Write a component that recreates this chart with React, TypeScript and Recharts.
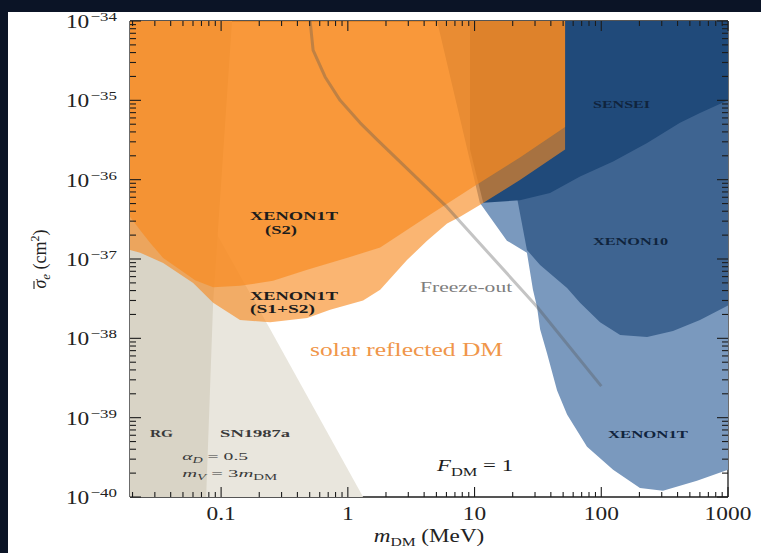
import React from 'react';
import { ScatterChart, Scatter, XAxis, YAxis } from 'recharts';

// Page canvas: plain white, no scrollbars
if (typeof document !== 'undefined') {
  document.documentElement.style.background = '#ffffff';
  document.documentElement.style.overflow = 'hidden';
  document.body.style.background = '#ffffff';
  document.body.style.margin = '0';
  document.body.style.overflow = 'hidden';
}

// Outline vertices of each region: [m_DM (MeV), sigma_e (cm^2)]
const sn1987a: [number, number][] = [
  [0.0191, 1e-40], [1.32, 1e-40], [0.244, 1.3e-38], [0.0191, 1.86e-35],
];
const redGiants: [number, number][] = [
  [0.0191, 1e-40], [0.0762, 1e-40], [0.0865, 2.8e-38], [0.122, 1e-34], [0.0191, 1e-34],
];
const xenon1t: [number, number][] = [
  [5.06, 1e-34], [1000, 1e-34], [1000, 2.2e-40], [569, 1.6e-40], [307, 1.2e-40], [202, 1.3e-40],
  [124, 2.2e-40], [77.2, 4.3e-40], [53.7, 1.1e-39], [44.8, 2.2e-39], [37.3, 6.5e-39],
  [32.9, 1.3e-38], [31.1, 2.5e-38], [28.9, 4.1e-38], [25.9, 1.2e-37], [18.0, 1.7e-37], [11.0, 5.1e-37],
];
const xenon10: [number, number][] = [
  [21.6, 1e-34], [1000, 1e-34], [1000, 2.6e-38], [601, 1.7e-38], [368, 1.24e-38], [230, 1.04e-38],
  [141, 1.1e-38], [97.8, 1.6e-38], [68.0, 2.8e-38], [53.7, 4.3e-38], [32.9, 8.4e-38],
  [25.9, 1.3e-37], [24.2, 2.3e-37], [21.6, 6.0e-37],
];
const sensei: [number, number][] = [
  [9.21, 1e-34], [1000, 1e-34], [1000, 1.0e-35], [601, 6.9e-36], [418, 5.2e-36], [230, 2.9e-36],
  [124, 1.7e-36], [68.0, 1.1e-36], [39.4, 6.8e-37], [22.8, 5.5e-37], [11.7, 5.1e-37], [9.21, 2.4e-36],
];
const xenon1tS1S2: [number, number][] = [
  [0.0191, 1e-34], [51.8, 1e-34], [51.8, 2.4e-36], [22.8, 9.9e-37], [11.0, 4.8e-37], [7.69, 3.4e-37],
  [6.07, 2.8e-37], [4.22, 1.7e-37], [2.93, 9.7e-38], [1.80, 4.1e-38], [1.32, 3.0e-38], [0.725, 2.3e-38],
  [0.478, 1.8e-38], [0.244, 1.6e-38], [0.141, 1.7e-38], [0.0865, 2.8e-38], [0.0602, 5.0e-38],
  [0.0349, 8.9e-38], [0.0230, 1.2e-37], [0.0191, 1.3e-37],
];
const xenon1tS2: [number, number][] = [
  [0.0191, 1e-34], [51.8, 1e-34], [51.8, 4.6e-36], [22.8, 1.9e-36], [9.72, 8.1e-37], [4.45, 3.6e-37],
  [1.80, 1.4e-37], [1.04, 1.06e-37], [0.478, 7.3e-38], [0.257, 5.3e-38], [0.141, 4.6e-38],
  [0.0865, 4.4e-38], [0.0624, 5.4e-38], [0.0475, 7.3e-38], [0.0349, 1.03e-37], [0.0275, 1.6e-37],
  [0.0230, 2.3e-37], [0.0191, 3.4e-37],
];
const freezeOut: [number, number][] = [
  [0.504, 1e-34], [0.532, 4.3e-35], [0.662, 1.97e-35], [0.869, 1.0e-35], [1.25, 5.2e-36],
  [1.70, 3.2e-36], [6.07, 4.5e-37], [31.1, 2.5e-38], [100, 2.5e-39],
];

// Axis ticks
const xMajor = [0.1, 1, 10, 100, 1000];
const yMajor = [1e-40, 1e-39, 1e-38, 1e-37, 1e-36, 1e-35, 1e-34];
const minorSteps = [2, 3, 4, 5, 6, 7, 8, 9];
const xTicks = [
  ...minorSteps.map((k) => k * 0.01),
  ...xMajor,
  ...xMajor.slice(0, 4).flatMap((d) => minorSteps.map((k) => k * d)),
].sort((a, b) => a - b);
const yTicks = [
  ...yMajor,
  ...yMajor.slice(0, 6).flatMap((d) => minorSteps.map((k) => k * d)),
].sort((a, b) => a - b);

const X_DOMAIN: [number, number] = [0.0191, 1000];
const Y_DOMAIN: [number, number] = [1e-40, 1e-34];

const SERIF = '"Liberation Serif", "DejaVu Serif", serif';
const INK = '#1c1c1c';

type Part = { t: string; i?: boolean; sub?: boolean };
type Note = { m: number; s: number; parts: Part[]; size: number; width: number; color: string; bold?: boolean };

// Text annotations, anchored at the start of their baseline in data coordinates
const notes: Note[] = [
  { m: 0.169, s: 3.1e-37, parts: [{ t: 'XENON1T' }], size: 11.5, width: 88, color: INK, bold: true },
  { m: 0.222, s: 2.09e-37, parts: [{ t: '(S2)' }], size: 11.5, width: 32, color: INK, bold: true },
  { m: 0.169, s: 3.0e-38, parts: [{ t: 'XENON1T' }], size: 11.5, width: 88, color: INK, bold: true },
  { m: 0.169, s: 2.06e-38, parts: [{ t: '(S1+S2)' }], size: 11.5, width: 65, color: INK, bold: true },
  { m: 86.1, s: 8.0e-36, parts: [{ t: 'SENSEI' }], size: 11, width: 57, color: '#10243d', bold: true },
  { m: 86.1, s: 1.5e-37, parts: [{ t: 'XENON10' }], size: 11, width: 75, color: '#10243d', bold: true },
  { m: 113, s: 5.5e-40, parts: [{ t: 'XENON1T' }], size: 11, width: 80, color: '#10243d', bold: true },
  { m: 0.0275, s: 5.7e-40, parts: [{ t: 'RG' }], size: 11, width: 23, color: '#3a3a3a', bold: true },
  { m: 0.0982, s: 5.7e-40, parts: [{ t: 'SN1987a' }], size: 11, width: 70, color: '#3a3a3a', bold: true },
  { m: 0.0493, s: 2.9e-40, parts: [{ t: 'α', i: true }, { t: 'D', i: true, sub: true }, { t: ' = 0.5' }], size: 11, width: 66, color: '#3a3a3a' },
  { m: 0.0493, s: 1.8e-40, parts: [{ t: 'm', i: true }, { t: 'V', i: true, sub: true }, { t: ' = 3' }, { t: 'm', i: true }, { t: 'DM', sub: true }], size: 11, width: 95, color: '#3a3a3a' },
  { m: 5.06, s: 2.1e-40, parts: [{ t: 'F', i: true }, { t: 'DM', sub: true }, { t: ' = 1' }], size: 16, width: 76, color: INK },
  { m: 3.72, s: 3.8e-38, parts: [{ t: 'Freeze-out' }], size: 14, width: 92, color: '#7d7d7d' },
  { m: 0.504, s: 6.0e-39, parts: [{ t: 'solar reflected DM' }], size: 19, width: 193, color: '#f0964a' },
];

const toPoints = (arr: [number, number][]) => arr.map(([m, s]) => ({ m, s }));

const regionShape = (fill: string, opacity: number) => (p: any) => {
  const pts = (p.points || []).filter((q: any) => q.x != null && q.y != null);
  if (!pts.length) return <g />;
  const d = pts.map((q: any, i: number) => `${i ? 'L' : 'M'}${q.x},${q.y}`).join('') + 'Z';
  return <path d={d} fill={fill} fillOpacity={opacity} stroke="none" />;
};

const curveShape = (stroke: string, opacity: number, width: number) => (p: any) => {
  const pts = (p.points || []).filter((q: any) => q.x != null && q.y != null);
  if (!pts.length) return <g />;
  const d = pts.map((q: any, i: number) => `${i ? 'L' : 'M'}${q.x},${q.y}`).join('');
  return <path d={d} fill="none" stroke={stroke} strokeOpacity={opacity} strokeWidth={width} strokeLinejoin="round" />;
};

const noDot = () => <g />;

const NoteShape = (p: any) => {
  const n: Note = p.payload;
  if (!n || p.cx == null) return <g />;
  let shift = 0;
  const spans = n.parts.map((pt, k) => {
    const target = pt.sub ? Math.round(n.size * 0.3) : 0;
    const dy = target - shift;
    shift = target;
    return (
      <tspan key={k} dy={dy} fontStyle={pt.i ? 'italic' : 'normal'} fontSize={pt.sub ? n.size * 0.72 : n.size}>
        {pt.t}
      </tspan>
    );
  });
  return (
    <text
      x={p.cx}
      y={p.cy}
      textLength={n.width}
      lengthAdjust="spacingAndGlyphs"
      fontFamily={SERIF}
      fontWeight={n.bold ? 700 : 400}
      fontSize={n.size}
      fill={n.color}
    >
      {spans}
    </text>
  );
};

const isMajor = (v: number, majors: number[]) => majors.some((m) => Math.abs(v / m - 1) < 1e-6);

const BottomTick = (p: any) => {
  const { x, y, payload } = p;
  const v = payload.value;
  const major = isMajor(v, xMajor);
  return (
    <g>
      <line x1={x} x2={x} y1={y} y2={y - (major ? 10 : 5)} stroke={INK} strokeWidth={1.1} />
      {major && (
        <text transform={`translate(${x},${y + 23}) scale(1.3,1)`} textAnchor="middle" fontFamily={SERIF} fontSize={18} fill="#222">
          {String(v)}
        </text>
      )}
    </g>
  );
};

const TopTick = (p: any) => {
  const { x, y, payload } = p;
  const major = isMajor(payload.value, xMajor);
  return <line x1={x} x2={x} y1={y} y2={y + (major ? 10 : 5)} stroke={INK} strokeWidth={1.1} />;
};

const LeftTick = (p: any) => {
  const { x, y, payload } = p;
  const v = payload.value;
  const major = isMajor(v, yMajor);
  const exp = Math.round(Math.log10(v));
  return (
    <g>
      <line x1={x} x2={x + (major ? 11 : 6)} y1={y} y2={y} stroke={INK} strokeWidth={1.1} />
      {major && (
        <text transform={`translate(${x - 13},${y + 7}) scale(1.3,1)`} textAnchor="end" fontFamily={SERIF} fontSize={18} fill="#222">
          <tspan>10</tspan>
          <tspan dy={-7} fontSize={13} dx={1}>{`−${-exp}`}</tspan>
        </text>
      )}
    </g>
  );
};

const RightTick = (p: any) => {
  const { x, y, payload } = p;
  const major = isMajor(payload.value, yMajor);
  return <line x1={x} x2={x - (major ? 11 : 6)} y1={y} y2={y} stroke={INK} strokeWidth={1.1} />;
};

const XTitle = (p: any) => {
  const vb = p.viewBox || { x: 0, y: 0, width: 0 };
  const cx = vb.x + vb.width / 2;
  return (
    <text transform={`translate(${cx},${vb.y + 45}) scale(1.25,1)`} textAnchor="middle" fontFamily={SERIF} fontSize={18.5} fill="#222">
      <tspan fontStyle="italic">m</tspan>
      <tspan dy={4} fontSize={12.5}>DM</tspan>
      <tspan dy={-4}> (MeV)</tspan>
    </text>
  );
};

const YTitle = (p: any) => {
  const vb = p.viewBox || { x: 0, y: 0, height: 0 };
  const cy = vb.y + vb.height / 2;
  return (
    <g transform={`translate(${vb.x + 26},${cy}) rotate(-90)`}>
      <text textAnchor="middle" fontFamily={SERIF} fontSize={18} fill="#222">
        <tspan fontStyle="italic">σ</tspan>
        <tspan dy={4} fontSize={13} fontStyle="italic">e</tspan>
        <tspan dy={-4}> (cm</tspan>
        <tspan dy={-7} fontSize={12}>2</tspan>
        <tspan dy={7}>)</tspan>
      </text>
      {/* bar over sigma */}
      <line x1={-30} x2={-22} y1={-12} y2={-12} stroke="#222" strokeWidth={1.1} />
    </g>
  );
};

const ORANGE = '#f78a20';

const regions: { key: string; pts: [number, number][]; fill: string; opacity: number }[] = [
  { key: 'sn1987a', pts: sn1987a, fill: '#e9e6dd', opacity: 1 },
  { key: 'rg', pts: redGiants, fill: '#d9d4c6', opacity: 1 },
  { key: 'xenon1t', pts: xenon1t, fill: '#7a99be', opacity: 1 },
  { key: 'xenon10', pts: xenon10, fill: '#3e6491', opacity: 1 },
  { key: 'sensei', pts: sensei, fill: '#204a7a', opacity: 1 },
  { key: 's1s2', pts: xenon1tS1S2, fill: ORANGE, opacity: 0.63 },
  { key: 's2', pts: xenon1tS2, fill: ORANGE, opacity: 0.68 },
];

const DARK = '#0b1426';

export default function App() {
  const axisLine = { stroke: INK, strokeWidth: 1.3 };
  return (
    <div style={{ position: 'fixed', left: 0, top: 0, right: 0, bottom: 0, background: '#ffffff', overflow: 'hidden' }}>
      <div style={{ position: 'absolute', left: 0, top: 0, width: 761, height: 12, background: DARK }} />
      <div style={{ position: 'absolute', left: 0, top: 0, width: 8, height: 553, background: DARK }} />
      <div style={{ position: 'absolute', left: 0, top: 0, width: 761, height: 553 }}>
        <ScatterChart width={761} height={553} margin={{ top: 20, right: 30, bottom: 6, left: 20 }}>
          <XAxis
            xAxisId="b"
            dataKey="m"
            type="number"
            scale="log"
            domain={X_DOMAIN}
            allowDataOverflow
            ticks={xTicks}
            interval={0}
            tickSize={0}
            tickMargin={0}
            tickLine={false}
            tick={(p: any) => <BottomTick {...p} />}
            axisLine={axisLine}
            height={50}
            label={{ content: XTitle }}
          />
          <XAxis
            xAxisId="t"
            orientation="top"
            dataKey="m"
            type="number"
            scale="log"
            domain={X_DOMAIN}
            allowDataOverflow
            ticks={xTicks}
            interval={0}
            tickSize={0}
            tickMargin={0}
            tickLine={false}
            tick={(p: any) => <TopTick {...p} />}
            axisLine={axisLine}
            height={1}
          />
          <YAxis
            yAxisId="l"
            dataKey="s"
            type="number"
            scale="log"
            domain={Y_DOMAIN}
            allowDataOverflow
            ticks={yTicks}
            interval={0}
            tickSize={0}
            tickMargin={0}
            tickLine={false}
            tick={(p: any) => <LeftTick {...p} />}
            axisLine={axisLine}
            width={110}
            label={{ content: YTitle }}
          />
          <YAxis
            yAxisId="r"
            orientation="right"
            dataKey="s"
            type="number"
            scale="log"
            domain={Y_DOMAIN}
            allowDataOverflow
            ticks={yTicks}
            interval={0}
            tickSize={0}
            tickMargin={0}
            tickLine={false}
            tick={(p: any) => <RightTick {...p} />}
            axisLine={axisLine}
            width={3}
          />
          {regions.map((r) => (
            <Scatter
              key={r.key}
              xAxisId="b"
              yAxisId="l"
              data={toPoints(r.pts)}
              line={regionShape(r.fill, r.opacity)}
              shape={noDot}
              isAnimationActive={false}
            />
          ))}
          <Scatter
            xAxisId="b"
            yAxisId="l"
            data={toPoints(freezeOut)}
            line={curveShape('#555555', 0.35, 3)}
            shape={noDot}
            isAnimationActive={false}
          />
          <Scatter
            xAxisId="b"
            yAxisId="l"
            data={notes}
            shape={(p: any) => <NoteShape {...p} />}
            isAnimationActive={false}
          />
        </ScatterChart>
      </div>
    </div>
  );
}
